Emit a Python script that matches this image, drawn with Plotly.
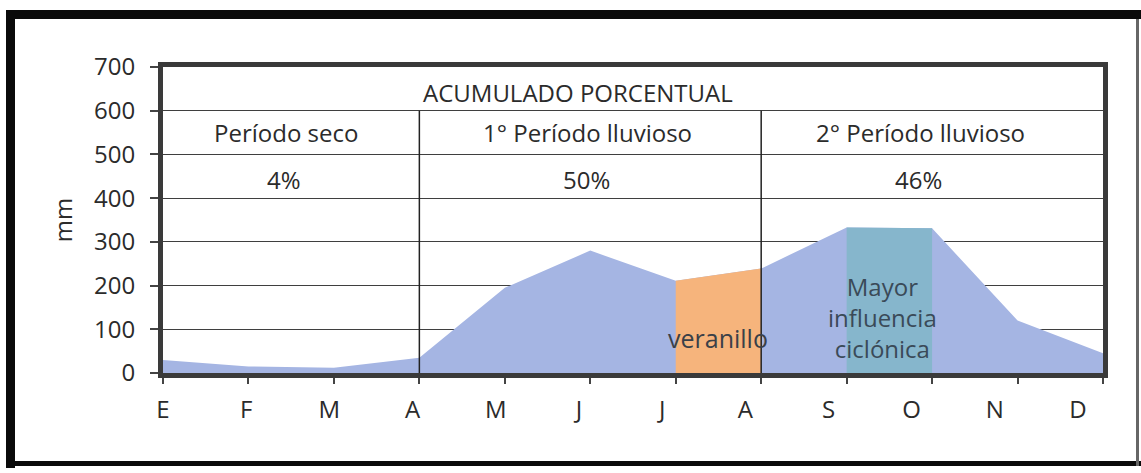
import plotly.graph_objects as go

# ---------------- data ----------------
months = ["E", "F", "M", "A", "M", "J", "J", "A", "S", "O", "N", "D"]
precip_mm = [30, 15, 12, 35, 195, 280, 211, 239, 333, 331, 120, 45]
veranillo_months = [6, 7]          # J, A (indices)
ciclonica_months = [8, 9]          # S, O (indices)
period_bounds = [3, 7]             # dividers at A (Apr) and A (Aug)
period_names = ["Período seco", "1° Período lluvioso", "2° Período lluvioso"]
period_pcts = ["4%", "50%", "46%"]
period_label_x = [1.44, 4.97, 8.86]
header_text = "ACUMULADO PORCENTUAL"
y_ticks = [0, 100, 200, 300, 400, 500, 600, 700]

# ---------------- style ----------------
W, H = 1141, 473
ML, MR, MT, MB = 163, 38, 67, 100
PW, PH = W - ML - MR, H - MT - MB
FONT = "Open Sans"
TXT = "#2b2b2b"
BLUE = "#a5b5e3"
ORANGE = "#f6b47c"
TEAL = "#86b6cc"
GRID = "#3f3f3f"


def px_x(px):
    return (px - ML) / PW


def px_y(py):
    return 1 - (py - MT) / PH


idx = list(range(len(months)))

fig = go.Figure()
fig.add_trace(go.Scatter(x=idx, y=precip_mm, mode="lines", fill="tozeroy",
                         line=dict(width=0, color=BLUE), fillcolor=BLUE,
                         hoverinfo="skip", showlegend=False))
fig.add_trace(go.Scatter(x=veranillo_months,
                         y=[precip_mm[i] for i in veranillo_months],
                         mode="lines", fill="tozeroy",
                         line=dict(width=0, color=ORANGE), fillcolor=ORANGE,
                         hoverinfo="skip", showlegend=False))
fig.add_trace(go.Scatter(x=ciclonica_months,
                         y=[precip_mm[i] for i in ciclonica_months],
                         mode="lines", fill="tozeroy",
                         line=dict(width=0, color=TEAL), fillcolor=TEAL,
                         hoverinfo="skip", showlegend=False))
# invisible anchor trace for the month-label axis
fig.add_trace(go.Scatter(x=idx, y=[0] * len(idx), xaxis="x2", yaxis="y",
                         mode="markers", marker=dict(opacity=0),
                         hoverinfo="skip", showlegend=False))

shapes = []
# period divider lines
for b in period_bounds:
    shapes.append(dict(type="line", xref="x", yref="y", x0=b, x1=b,
                       y0=0, y1=600, line=dict(color="#222", width=1.5),
                       layer="above"))
# outer scanned frame
black = "#0a0a0a"
shapes += [
    dict(type="rect", xref="paper", yref="paper", x0=px_x(6), x1=px_x(1141),
         y0=px_y(19), y1=px_y(10), fillcolor=black, line=dict(width=0)),
    dict(type="rect", xref="paper", yref="paper", x0=px_x(6), x1=px_x(15),
         y0=px_y(468), y1=px_y(10), fillcolor=black, line=dict(width=0)),
    dict(type="rect", xref="paper", yref="paper", x0=px_x(6), x1=px_x(1141),
         y0=px_y(466), y1=px_y(461), fillcolor=black, line=dict(width=0)),
    dict(type="rect", xref="paper", yref="paper", x0=px_x(1136), x1=px_x(1139),
         y0=px_y(466), y1=px_y(19), fillcolor="#666", line=dict(width=0)),
]

annotations = []
annotations.append(dict(x=4.86, y=642, xref="x", yref="y", text=header_text,
                        showarrow=False, font=dict(family=FONT, size=24, color=TXT)))
for name, pct, lx in zip(period_names, period_pcts, period_label_x):
    annotations.append(dict(x=lx, y=550, xref="x", yref="y", text=name,
                            showarrow=False, font=dict(family=FONT, size=24, color=TXT)))
    annotations.append(dict(x=lx - 0.02, y=443, xref="x", yref="y", text=pct,
                            showarrow=False, font=dict(family=FONT, size=24, color=TXT)))
annotations.append(dict(x=6.5, y=80, xref="x", yref="y", text="veranillo",
                        showarrow=False, font=dict(family=FONT, size=25, color="#3a4048")))
annotations.append(dict(x=8.42, y=126, xref="x", yref="y",
                        text="Mayor<br>influencia<br>ciclónica",
                        showarrow=False, align="center",
                        font=dict(family=FONT, size=24, color="#3a4a58")))

fig.update_layout(
    width=W, height=H,
    margin=dict(l=ML, r=MR, t=MT, b=MB, pad=0),
    paper_bgcolor="white", plot_bgcolor="white",
    font=dict(family=FONT, color=TXT),
    showlegend=False,
    shapes=shapes,
    annotations=annotations,
    xaxis=dict(range=[0, 11], tickvals=idx, showticklabels=False,
               ticks="outside", ticklen=6, tickcolor="#444", tickwidth=1.5,
               showgrid=False, zeroline=False,
               showline=True, linecolor="#3a3a3a", linewidth=5, mirror=True),
    xaxis2=dict(overlaying="x", range=[0, 11.3], tickvals=idx,
                ticktext=months, ticks="", showgrid=False, zeroline=False,
                showline=False, side="bottom", anchor="y",
                tickfont=dict(family=FONT, size=24, color=TXT),
                ticklabelstandoff=20),
    yaxis=dict(range=[0, 700], tickvals=y_ticks, ticks="outside", ticklen=8,
               tickcolor="#444", tickwidth=1.5,
               showgrid=True, gridcolor=GRID, gridwidth=1.2, zeroline=False,
               showline=True, linecolor="#3a3a3a", linewidth=5, mirror=True,
               tickfont=dict(family=FONT, size=24, color=TXT),
               ticklabelstandoff=10,
               title=dict(text="mm", standoff=16,
                          font=dict(family=FONT, size=24, color=TXT))),
)

fig.write_html("out.html", config={"displayModeBar": False},
               post_script="document.body.style.margin='0px';")
